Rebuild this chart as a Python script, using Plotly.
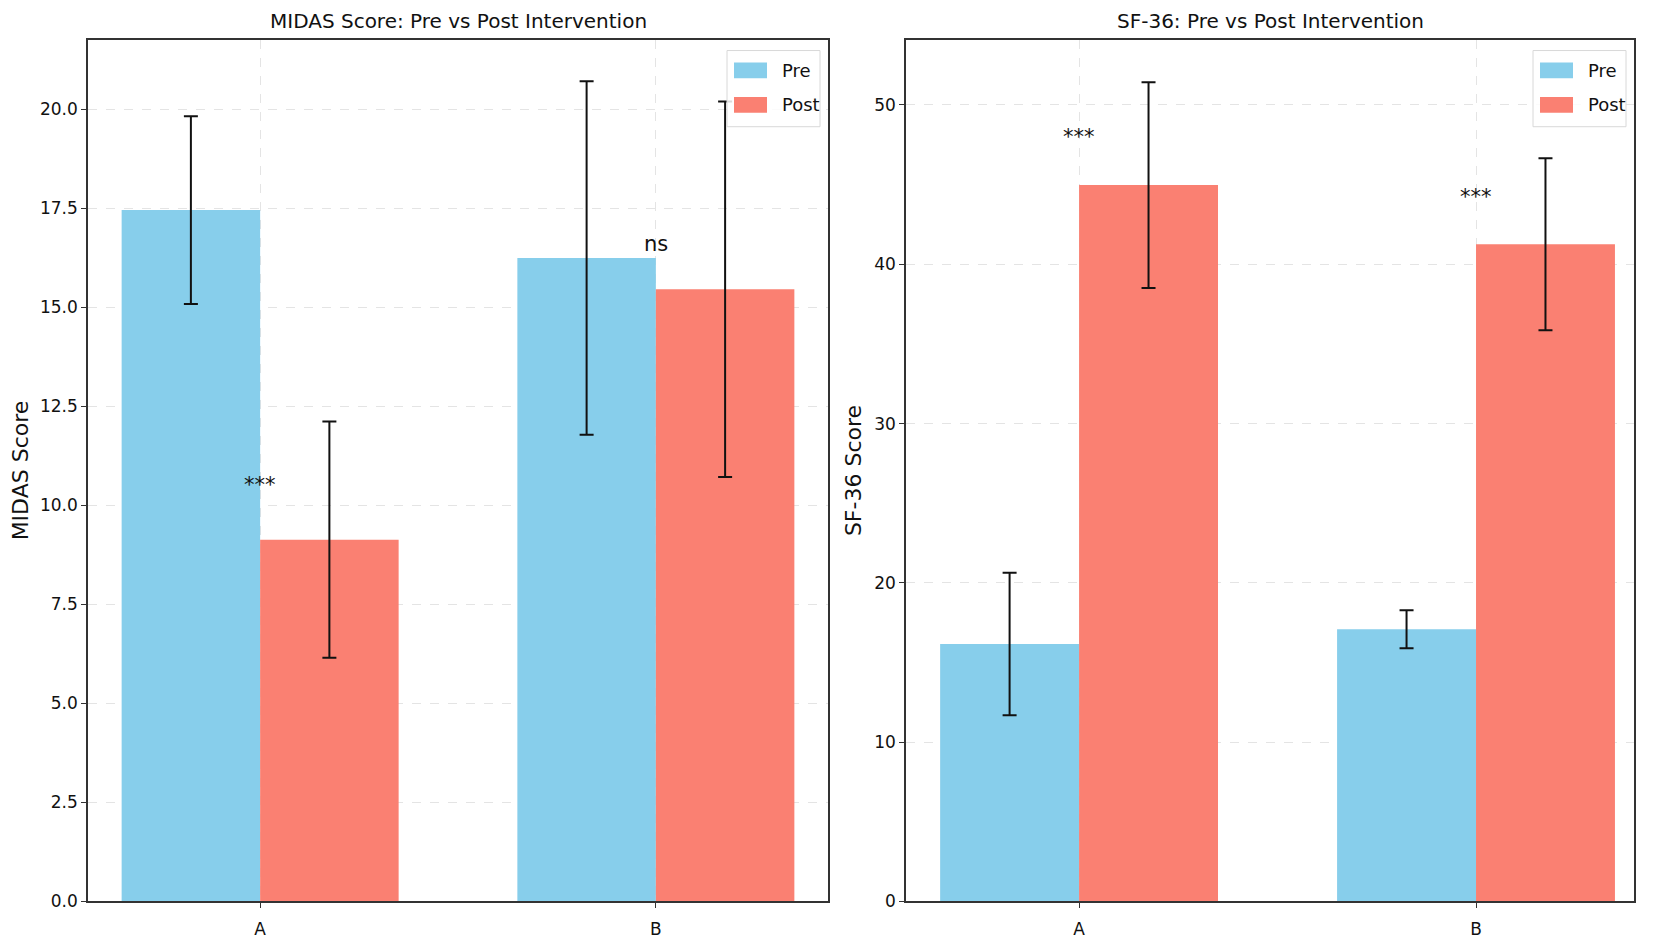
import plotly.graph_objects as go

# ---------------- data ----------------
categories = ["A", "B"]
series_names = ["Pre", "Post"]

midas_pre = [17.45, 16.24]
midas_pre_err = [2.37, 4.46]
midas_post = [9.13, 15.45]
midas_post_err = [2.98, 4.74]
midas_sig_labels = ["***", "ns"]
midas_sig_y = [10.5, 16.6]

sf36_pre = [16.16, 17.09]
sf36_pre_err = [4.47, 1.19]
sf36_post = [44.97, 41.26]
sf36_post_err = [6.46, 5.40]
sf36_sig_labels = ["***", "***"]
sf36_sig_y = [48.0, 44.2]

midas_ticks = [0, 2.5, 5, 7.5, 10, 12.5, 15, 17.5, 20]
sf36_ticks = [0, 10, 20, 30, 40, 50]

titles = ["MIDAS Score: Pre vs Post Intervention", "SF-36: Pre vs Post Intervention"]
ytitles = ["MIDAS Score", "SF-36 Score"]

colors = ["#87CEEB", "#FA8072"]

# ---------------- layout constants ----------------
W, H = 1654, 942
FONT = "DejaVu Sans"
OFF = 8  # page body margin offset in the screenshot
px = lambda x: (x - OFF) / W
py = lambda y: 1 - (y - OFF) / H

left_dom = [px(88), px(828)]
right_dom = [px(906), px(1634)]
ydom = [py(911), py(40)]

fig = go.Figure()

panels = [
    dict(pre=midas_pre, pre_err=midas_pre_err, post=midas_post, post_err=midas_post_err,
         sig=midas_sig_labels, sig_y=midas_sig_y, xa="x", ya="y"),
    dict(pre=sf36_pre, pre_err=sf36_pre_err, post=sf36_post, post_err=sf36_post_err,
         sig=sf36_sig_labels, sig_y=sf36_sig_y, xa="x2", ya="y2"),
]

for p in panels:
    for name, vals, errs, col in [
        (series_names[0], p["pre"], p["pre_err"], colors[0]),
        (series_names[1], p["post"], p["post_err"], colors[1]),
    ]:
        fig.add_trace(go.Bar(
            x=categories, y=vals, name=name, xaxis=p["xa"], yaxis=p["ya"],
            marker=dict(color=col, line=dict(width=0)),
            error_y=dict(type="data", array=errs, visible=True, color="#111111",
                         thickness=2, width=7),
            showlegend=False,
        ))

axis_common = dict(
    showline=True, linecolor="#333333", linewidth=1.5, mirror=True,
    ticks="outside", ticklen=5, tickwidth=1.2, tickcolor="#333333",
    showgrid=True, gridcolor="#e4e4e4", griddash="dash", gridwidth=1,
    zeroline=False, tickfont=dict(family=FONT, size=17, color="#111111"),
)

fig.update_layout(
    width=W, height=H,
    margin=dict(l=0, r=0, t=0, b=0),
    paper_bgcolor="white", plot_bgcolor="white",
    barmode="group", bargap=0.3, bargroupgap=0,
    xaxis=dict(domain=left_dom, anchor="y", range=[-0.435, 1.435],
               ticklabelstandoff=6, **axis_common),
    yaxis=dict(domain=ydom, anchor="x", range=[0, 21.75], tickvals=midas_ticks,
               tickformat=".1f",
               title=dict(text=ytitles[0], font=dict(family=FONT, size=22, color="#111111"), standoff=5),
               **axis_common),
    xaxis2=dict(domain=right_dom, anchor="y2", range=[-0.436, 1.398],
                ticklabelstandoff=6, **axis_common),
    yaxis2=dict(domain=ydom, anchor="x2", range=[0, 54.1], tickvals=sf36_ticks,
                title=dict(text=ytitles[1], font=dict(family=FONT, size=22, color="#111111"), standoff=7),
                **axis_common),
    showlegend=False,
)

annotations = []
shapes = []

# titles
for dom, t in zip([left_dom, right_dom], titles):
    annotations.append(dict(
        text=t, x=(dom[0] + dom[1]) / 2, y=1 - 13 / H, xref="paper", yref="paper",
        xanchor="center", yanchor="middle", showarrow=False, borderpad=0,
        font=dict(family=FONT, size=20, color="#111111"),
    ))

# significance labels
for p in panels:
    for cat, lab, yv in zip(categories, p["sig"], p["sig_y"]):
        annotations.append(dict(
            text=lab, x=cat, y=yv, xref=p["xa"], yref=p["ya"],
            xanchor="center", yanchor="middle", showarrow=False,
            font=dict(family=FONT, size=21, color="#111111"),
        ))

# manual legends (matplotlib style)
for dom in [left_dom, right_dom]:
    right_px = dom[1] * W + OFF
    bx1 = right_px - 8
    bx0 = bx1 - 93
    by0, by1 = 51, 128
    shapes.append(dict(type="rect", xref="paper", yref="paper",
                       x0=px(bx0), x1=px(bx1), y0=py(by1), y1=py(by0),
                       line=dict(color="#d8d8d8", width=1), fillcolor="rgba(255,255,255,0.85)",
                       layer="above"))
    for i, (name, col) in enumerate(zip(series_names, colors)):
        cy = 71 + i * 35
        shapes.append(dict(type="rect", xref="paper", yref="paper",
                           x0=px(bx0 + 7), x1=px(bx0 + 40), y0=py(cy + 8), y1=py(cy - 8),
                           line=dict(width=0), fillcolor=col, layer="above"))
        annotations.append(dict(
            text=name, x=px(bx0 + 53), y=py(cy), xref="paper", yref="paper",
            xanchor="left", yanchor="middle", showarrow=False,
            font=dict(family=FONT, size=18, color="#111111"),
        ))

fig.update_layout(annotations=annotations, shapes=shapes)

fig.write_html("out.html")
